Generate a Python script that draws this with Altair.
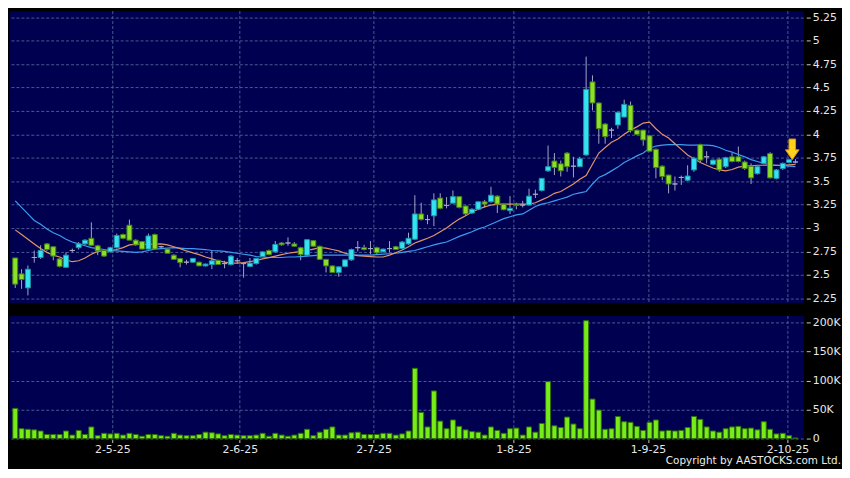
import altair as alt
import pandas as pd

# ---------------- data ----------------
date_labels = ["2-5-25", "2-6-25", "2-7-25", "1-8-25", "1-9-25", "2-10-25"]
date_label_pos = [15.3, 35.4, 56.5, 78.55, 99.75, 121.75]   # trading-day index
price_ticks = [2.25, 2.5, 2.75, 3.0, 3.25, 3.5, 3.75, 4.0, 4.25, 4.5, 4.75, 5.0, 5.25]
volume_ticks = [0, 50000, 100000, 150000, 200000]

opens = [2.68, 2.51, 2.36, 2.685, 2.685, 2.83, 2.80, 2.67, 2.58, 2.76,
         2.79, 2.83, 2.89, 2.81, 2.76, 2.745, 2.79, 2.93, 3.03, 2.87,
         2.855, 2.775, 2.93, 2.80, 2.775, 2.71, 2.675, 2.635, 2.635, 2.635,
         2.595, 2.61, 2.655, 2.62, 2.61, 2.65, 2.62, 2.59, 2.62, 2.695,
         2.76, 2.745, 2.84, 2.84, 2.83, 2.79, 2.71, 2.865, 2.805, 2.665,
         2.595, 2.525, 2.59, 2.66, 2.79, 2.79, 2.78, 2.79, 2.745, 2.78,
         2.80, 2.78, 2.83, 2.88, 3.15, 3.09, 3.13, 3.32, 3.24, 3.265,
         3.335, 3.235, 3.16, 3.20, 3.28, 3.28, 3.34, 3.255, 3.185, 3.255,
         3.245, 3.245, 3.36, 3.40, 3.61, 3.715, 3.685, 3.80, 3.66, 3.655,
         3.78, 4.56, 4.335, 4.11, 4.045, 4.10, 4.185, 4.31, 4.045, 4.045,
         3.985, 3.84, 3.66, 3.565, 3.47, 3.54, 3.51, 3.62, 3.89, 3.76,
         3.68, 3.735, 3.655, 3.76, 3.76, 3.705, 3.66, 3.58, 3.69, 3.795,
         3.53, 3.635, 3.70, 3.705]
highs = [2.68, 2.56, 2.60, 2.76, 2.815, 2.84, 2.80, 2.68, 2.74, 2.78,
         2.85, 2.88, 3.06, 2.82, 2.77, 2.80, 2.94, 2.94, 3.09, 2.88,
         2.86, 2.94, 2.94, 2.81, 2.78, 2.72, 2.68, 2.66, 2.68, 2.64,
         2.62, 2.76, 2.66, 2.65, 2.71, 2.68, 2.63, 2.68, 2.68, 2.75,
         2.77, 2.86, 2.85, 2.90, 2.85, 2.80, 2.88, 2.87, 2.81, 2.67,
         2.60, 2.59, 2.66, 2.78, 2.86, 2.82, 2.86, 2.80, 2.78, 2.86,
         2.81, 2.86, 2.95, 3.35, 3.27, 3.14, 3.37, 3.37, 3.33, 3.40,
         3.34, 3.24, 3.21, 3.28, 3.30, 3.44, 3.35, 3.26, 3.34, 3.27,
         3.29, 3.42, 3.41, 3.53, 3.88, 3.80, 3.72, 3.81, 3.76, 3.76,
         4.83, 4.63, 4.34, 4.12, 4.07, 4.24, 4.37, 4.35, 4.05, 4.05,
         3.99, 3.85, 3.67, 3.57, 3.55, 3.56, 3.67, 3.76, 3.90, 3.82,
         3.73, 3.75, 3.76, 3.80, 3.87, 3.72, 3.69, 3.66, 3.77, 3.81,
         3.63, 3.70, 3.74, 3.735]
lows = [2.36, 2.35, 2.28, 2.63, 2.67, 2.755, 2.655, 2.58, 2.58, 2.74,
        2.77, 2.82, 2.81, 2.71, 2.69, 2.74, 2.78, 2.88, 2.87, 2.81,
        2.77, 2.77, 2.77, 2.775, 2.73, 2.665, 2.58, 2.61, 2.63, 2.595,
        2.59, 2.56, 2.61, 2.57, 2.60, 2.62, 2.47, 2.58, 2.61, 2.69,
        2.71, 2.74, 2.81, 2.81, 2.80, 2.655, 2.70, 2.80, 2.66, 2.525,
        2.52, 2.48, 2.58, 2.65, 2.75, 2.76, 2.72, 2.72, 2.74, 2.74,
        2.765, 2.775, 2.82, 2.87, 3.08, 3.04, 3.02, 3.20, 3.21, 3.26,
        3.21, 3.13, 3.15, 3.19, 3.22, 3.27, 3.16, 3.19, 3.15, 3.20,
        3.22, 3.24, 3.32, 3.39, 3.60, 3.565, 3.55, 3.60, 3.54, 3.65,
        3.77, 4.255, 3.90, 3.90, 3.96, 4.06, 4.18, 4.02, 3.99, 3.88,
        3.82, 3.53, 3.51, 3.37, 3.40, 3.46, 3.50, 3.60, 3.70, 3.69,
        3.67, 3.60, 3.64, 3.70, 3.70, 3.62, 3.47, 3.57, 3.68, 3.53,
        3.52, 3.62, 3.69, 3.69]
closes = [2.40, 2.45, 2.56, 2.685, 2.76, 2.77, 2.70, 2.59, 2.71, 2.76,
          2.83, 2.87, 2.815, 2.755, 2.70, 2.79, 2.92, 2.89, 2.87, 2.82,
          2.775, 2.915, 2.775, 2.80, 2.73, 2.665, 2.63, 2.635, 2.675, 2.595,
          2.615, 2.65, 2.61, 2.62, 2.70, 2.65, 2.62, 2.625, 2.675, 2.745,
          2.715, 2.825, 2.82, 2.84, 2.805, 2.715, 2.875, 2.805, 2.665, 2.595,
          2.525, 2.585, 2.66, 2.77, 2.79, 2.77, 2.78, 2.735, 2.775, 2.78,
          2.77, 2.85, 2.89, 3.15, 3.09, 3.09, 3.30, 3.21, 3.24, 3.335,
          3.22, 3.15, 3.20, 3.28, 3.255, 3.35, 3.255, 3.195, 3.21, 3.24,
          3.245, 3.34, 3.36, 3.53, 3.655, 3.645, 3.61, 3.655, 3.66, 3.74,
          4.48, 4.335, 4.06, 3.975, 4.045, 4.235, 4.32, 4.04, 4.00, 3.94,
          3.82, 3.645, 3.55, 3.47, 3.47, 3.54, 3.555, 3.745, 3.725, 3.76,
          3.725, 3.62, 3.75, 3.71, 3.71, 3.635, 3.535, 3.655, 3.76, 3.535,
          3.62, 3.69, 3.73, 3.705]
volumes_k = [52, 17, 16, 15, 13, 7, 7, 7, 13, 6,
             14, 7, 20, 5, 9, 8, 9, 6, 9, 7,
             4, 7, 7, 5, 4, 9, 6, 5, 5, 7,
             11, 10, 8, 5, 7, 6, 5, 5, 6, 9,
             4, 9, 6, 4, 6, 9, 16, 5, 11, 16,
             20, 6, 6, 10, 11, 7, 7, 7, 9, 9,
             6, 8, 13, 121, 45, 20, 82, 30, 17, 32,
             21, 15, 12, 11, 6, 20, 14, 9, 17, 18,
             6, 20, 11, 26, 98, 22, 19, 37, 25, 17,
             203, 68, 49, 16, 17, 38, 29, 28, 21, 14,
             28, 32, 13, 14, 13, 14, 19, 38, 33, 20,
             13, 11, 17, 20, 21, 17, 18, 15, 29, 16,
             8, 9, 5, 1]
ma_long = [3.29, 3.22, 3.15, 3.08, 3.04, 2.99, 2.95, 2.92, 2.88, 2.85,
           2.83, 2.81, 2.79, 2.78, 2.77, 2.76, 2.755, 2.75, 2.745, 2.74,
           2.745, 2.76, 2.775, 2.78, 2.785, 2.79, 2.785, 2.78, 2.78, 2.775,
           2.77, 2.76, 2.755, 2.75, 2.74, 2.73, 2.72, 2.71, 2.695, 2.69,
           2.685, 2.685, 2.685, 2.69, 2.69, 2.695, 2.70, 2.705, 2.71, 2.71,
           2.71, 2.71, 2.71, 2.71, 2.71, 2.71, 2.71, 2.715, 2.72, 2.725,
           2.73, 2.74, 2.75, 2.76, 2.78, 2.80, 2.82, 2.835, 2.85, 2.88,
           2.91, 2.935, 2.96, 2.99, 3.01, 3.04, 3.07, 3.10, 3.12, 3.14,
           3.15, 3.19, 3.23, 3.255, 3.27, 3.29, 3.31, 3.33, 3.36, 3.375,
           3.39, 3.47, 3.54, 3.57, 3.61, 3.65, 3.70, 3.735, 3.77, 3.80,
           3.85, 3.875, 3.885, 3.89, 3.89, 3.89, 3.885, 3.885, 3.885, 3.885,
           3.88, 3.86, 3.83, 3.81, 3.785, 3.76, 3.73, 3.71, 3.69, 3.675,
           3.67, 3.665, 3.66, 3.655]
ma_short = [2.98, 2.93, 2.88, 2.83, 2.78, 2.74, 2.71, 2.69, 2.66, 2.64,
            2.65, 2.68, 2.72, 2.75, 2.755, 2.76, 2.77, 2.79, 2.82, 2.826,
            2.826, 2.826, 2.828, 2.83, 2.82, 2.80, 2.78, 2.755, 2.735, 2.715,
            2.69, 2.67, 2.65, 2.635, 2.625, 2.625, 2.63, 2.64, 2.655, 2.67,
            2.683, 2.70, 2.715, 2.73, 2.74, 2.75, 2.76, 2.775, 2.79, 2.785,
            2.77, 2.755, 2.73, 2.715, 2.705, 2.70, 2.695, 2.69, 2.69, 2.71,
            2.736, 2.765, 2.80, 2.84, 2.865, 2.89, 2.92, 2.96, 3.00, 3.05,
            3.095, 3.13, 3.17, 3.20, 3.225, 3.245, 3.254, 3.254, 3.254, 3.254,
            3.254, 3.255, 3.27, 3.30, 3.33, 3.37, 3.39, 3.43, 3.47, 3.52,
            3.56, 3.68, 3.80, 3.86, 3.915, 3.95, 4.00, 4.045, 4.08, 4.12,
            4.13, 4.06, 4.00, 3.96, 3.90, 3.84, 3.78, 3.74, 3.70, 3.67,
            3.64, 3.62, 3.61, 3.625, 3.65, 3.66, 3.665, 3.67, 3.67, 3.67,
            3.67, 3.67, 3.675, 3.68]
arrow_idx = [122.5]
arrow_price = [3.84]
copyright_text = ["Copyright by AASTOCKS.com Ltd."]

# ---------------- table ----------------
n = len(opens)
df = pd.DataFrame({
    "idx": list(range(n)),
    "open": opens, "high": highs, "low": lows, "close": closes,
    "volume": [v * 1000 for v in volumes_k],
    "ma_short": ma_short, "ma_long": ma_long,
})
df["dir"] = ["up" if c > o else ("down" if c < o else "flat") for o, c in zip(opens, closes)]

X_DOMAIN = [-0.2, 123.45]
PRICE_DOMAIN = [2.204, 5.321]
VOL_DOMAIN = [0, 212000]
W = 800

grid = dict(grid=True, gridColor="#4a5a92", gridDash=[3, 2], gridWidth=1)
label_expr = "[" + ",".join("'%s'" % s for s in date_labels) + "][indexof([" + \
    ",".join(str(p) for p in date_label_pos) + "], datum.value)]"

xscale = alt.Scale(domain=X_DOMAIN, nice=False, zero=False)
yscale = alt.Scale(domain=PRICE_DOMAIN, nice=False, zero=False)

x_axis_top = alt.Axis(values=date_label_pos, labels=False, ticks=False,
                      domain=False, title=None, **grid)
y_axis_price = alt.Axis(orient="right", values=price_ticks, format=".2~f",
                        domain=False, tickSize=4, tickColor="#c8c8c8", offset=3,
                        labelPadding=2, title=None, **grid)


def X():
    return alt.X("idx:Q", scale=xscale, axis=x_axis_top, title=None)


def Y(field):
    return alt.Y(field, scale=yscale, axis=y_axis_price, title=None)


base = alt.Chart(df)

# ---------------- price panel ----------------
wicks = base.mark_rule(color="#a4a4c4", strokeWidth=1).encode(
    x=X(), y=Y("low:Q"), y2="high:Q")

bodies = base.mark_bar(size=5, strokeWidth=1).encode(
    x=X(), y=Y("open:Q"), y2="close:Q",
    fill=alt.Fill("dir:N", legend=None,
                  scale=alt.Scale(domain=["up", "down", "flat"],
                                  range=["#35e2f2", "#8ddf2a", "#a4a4c4"])),
    stroke=alt.Stroke("dir:N", legend=None,
                      scale=alt.Scale(domain=["up", "down", "flat"],
                                      range=["#1c93a6", "#3f7f14", "#a4a4c4"])),
)

ma_long_line = base.mark_line(color="#3c9cf0", strokeWidth=1.2).encode(
    x=X(), y=Y("ma_long:Q"))
ma_short_line = base.mark_line(color="#e0946a", strokeWidth=1.2).encode(
    x=X(), y=Y("ma_short:Q"))

arrow_path = "M-0.32,-1 L0.32,-1 L0.32,0.05 L0.66,0.05 L0,1 L-0.66,0.05 L-0.32,0.05 Z"
arrow = alt.Chart(pd.DataFrame({"idx": arrow_idx, "price": arrow_price})).mark_point(
    shape=arrow_path, size=430, filled=True, fill="#ffd21c", stroke="#d99a00",
    strokeWidth=1, opacity=1).encode(x=X(), y=Y("price:Q"))

price_panel = alt.layer(wicks, ma_long_line, ma_short_line, bodies, arrow).properties(
    width=W, height=294)

# ---------------- volume panel ----------------
vscale = alt.Scale(domain=VOL_DOMAIN, nice=False, zero=True)
vol_bars = base.mark_bar(size=5, strokeWidth=1, fill="#77ec18", stroke="#2f6e08").encode(
    x=alt.X("idx:Q", scale=xscale, title=None,
            axis=alt.Axis(values=date_label_pos, labelExpr=label_expr, domain=False,
                          tickSize=3, tickColor="#c8c8c8", offset=1, labelPadding=1,
                          labelFlush=False, labelOverlap=False, title=None, **grid)),
    y=alt.Y("volume:Q", scale=vscale, title=None,
            axis=alt.Axis(orient="right", values=volume_ticks,
                          labelExpr="datum.value == 0 ? '0' : (datum.value / 1000) + 'K'",
                          domain=False, tickSize=4, tickColor="#c8c8c8", offset=3,
                          labelPadding=2, title=None, **grid)),
)

copyright_mark = alt.Chart(pd.DataFrame({"t": copyright_text})).mark_text(
    align="right", baseline="middle", fontSize=10.5, color="#ececec",
    font="DejaVu Sans").encode(
    x=alt.value(838), y=alt.value(147), text="t:N")

volume_panel = alt.layer(vol_bars, copyright_mark).properties(width=W, height=124)

chart = alt.vconcat(price_panel, volume_panel, spacing=10).properties(
    background="#000000", padding=0
).configure_view(
    fill="#000050", stroke="transparent"
).configure_axis(
    labelFont="DejaVu Sans", labelFontSize=11, labelColor="#e8e8e8"
)

chart.save("out.html", embed_options={"renderer": "svg", "actions": False})
